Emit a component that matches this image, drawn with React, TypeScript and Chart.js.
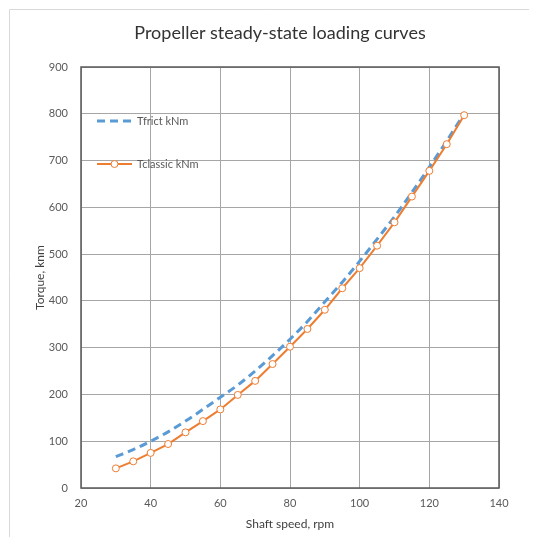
import React, { useEffect, useRef } from "react";
import { Chart, registerables } from "chart.js";

Chart.register(...registerables);

const speeds = [30, 35, 40, 45, 50, 55, 60, 65, 70, 75, 80, 85, 90, 95, 100, 105, 110, 115, 120, 125, 130];
const tfrict = [67, 82, 100, 120, 143, 168, 194, 220, 250, 283, 318, 356, 398, 440, 485, 532, 580, 632, 686, 742, 800];
const tclassic = [42, 57, 75, 94, 119, 143, 168, 199, 229, 265, 302, 340, 381, 427, 470, 518, 568, 623, 678, 735, 797];
const xTicks = [20, 40, 60, 80, 100, 120, 140];
const yTicks = [0, 100, 200, 300, 400, 500, 600, 700, 800, 900];

const TITLE = "Propeller steady-state loading curves";
const X_TITLE = "Shaft speed, rpm";
const Y_TITLE = "Torque, knm";
const LABEL_FRICT = "Tfrict kNm";
const LABEL_CLASSIC = "Tclassic kNm";

const BLUE = "#5B9BD5";
const ORANGE = "#ED7D31";
const FONT = "Lato, 'Open Sans', sans-serif";

export default function App() {
  const ref = useRef<HTMLCanvasElement | null>(null);

  useEffect(() => {
    if (!ref.current) return;
    const decor = {
      id: "decor",
      beforeDraw(chart: any) {
        const ctx = chart.ctx;
        ctx.save();
        ctx.fillStyle = "#ffffff";
        ctx.fillRect(0, 0, chart.width, chart.height);
        ctx.strokeStyle = "#d9d9d9";
        ctx.lineWidth = 1;
        ctx.beginPath();
        ctx.moveTo(1.5, chart.height);
        ctx.lineTo(1.5, 1.5);
        ctx.lineTo(chart.width, 1.5);
        ctx.stroke();
        ctx.restore();
      },
      beforeDatasetsDraw(chart: any) {
        const { ctx, chartArea } = chart;
        ctx.save();
        ctx.strokeStyle = "#595959";
        ctx.lineWidth = 1.5;
        ctx.strokeRect(chartArea.left, chartArea.top, chartArea.right - chartArea.left, chartArea.bottom - chartArea.top);
        ctx.restore();
      },
      afterDraw(chart: any) {
        const { ctx, chartArea } = chart;
        ctx.save();
        // title
        ctx.fillStyle = "#333333";
        ctx.font = `18px ${FONT}`;
        ctx.textAlign = "center";
        ctx.textBaseline = "middle";
        ctx.fillText(TITLE, 272, 25);
        // legend
        const lx0 = chartArea.left + 16;
        const lx1 = chartArea.left + 51;
        const tx = chartArea.left + 56;
        const y1 = chartArea.top + 54;
        const y2 = chartArea.top + 97;
        ctx.strokeStyle = BLUE;
        ctx.lineWidth = 3;
        ctx.setLineDash([8, 5]);
        ctx.beginPath();
        ctx.moveTo(lx0, y1);
        ctx.lineTo(lx1, y1);
        ctx.stroke();
        ctx.setLineDash([]);
        ctx.strokeStyle = ORANGE;
        ctx.lineWidth = 2;
        ctx.beginPath();
        ctx.moveTo(lx0, y2);
        ctx.lineTo(lx1, y2);
        ctx.stroke();
        ctx.fillStyle = "#ffffff";
        ctx.lineWidth = 1;
        ctx.beginPath();
        ctx.arc((lx0 + lx1) / 2, y2, 3.5, 0, Math.PI * 2);
        ctx.fill();
        ctx.stroke();
        ctx.fillStyle = "#595959";
        ctx.font = `11px ${FONT}`;
        ctx.textAlign = "left";
        ctx.textBaseline = "middle";
        ctx.fillText(LABEL_FRICT, tx, y1);
        ctx.fillText(LABEL_CLASSIC, tx, y2);
        ctx.restore();
      },
    };

    const chart = new Chart(ref.current, {
      type: "line",
      data: {
        datasets: [
          {
            label: LABEL_FRICT,
            data: speeds.map((s, i) => ({ x: s, y: tfrict[i] })),
            borderColor: BLUE,
            borderWidth: 3,
            borderDash: [8, 5],
            pointRadius: 0,
            fill: false,
            cubicInterpolationMode: "monotone",
            order: 2,
          },
          {
            label: LABEL_CLASSIC,
            data: speeds.map((s, i) => ({ x: s, y: tclassic[i] })),
            borderColor: ORANGE,
            borderWidth: 2,
            pointRadius: 3.5,
            pointBackgroundColor: "#ffffff",
            pointBorderColor: ORANGE,
            pointBorderWidth: 1,
            fill: false,
            tension: 0,
            order: 1,
          },
        ],
      },
      options: {
        responsive: false,
        animation: false,
        layout: { padding: { top: 59, right: 30, left: 0, bottom: 0 } },
        plugins: {
          legend: { display: false },
          title: { display: false },
          tooltip: { enabled: false },
        },
        scales: {
          x: {
            type: "linear",
            min: xTicks[0],
            max: xTicks[xTicks.length - 1],
            afterBuildTicks: (scale: any) => {
              scale.ticks = xTicks.map((v) => ({ value: v }));
            },
            afterFit: (scale: any) => {
              scale.height = 49;
            },
            grid: { color: "#a6a6a6", lineWidth: 1, drawTicks: false },
            border: { display: false },
            ticks: { padding: 9, color: "#595959", font: { family: FONT, size: 11 } },
            title: {
              display: true,
              text: X_TITLE,
              color: "#404040",
              font: { family: FONT, size: 12 },
              padding: { top: 0, bottom: 6 },
            },
          },
          y: {
            type: "linear",
            min: yTicks[0],
            max: yTicks[yTicks.length - 1],
            afterBuildTicks: (scale: any) => {
              scale.ticks = yTicks.map((v) => ({ value: v }));
            },
            afterFit: (scale: any) => {
              scale.width = 73;
            },
            grid: { color: "#a6a6a6", lineWidth: 1, drawTicks: false },
            border: { display: false },
            ticks: { padding: 13, color: "#595959", font: { family: FONT, size: 11 } },
            title: {
              display: true,
              text: Y_TITLE,
              color: "#404040",
              font: { family: FONT, size: 12 },
              padding: { top: 25, bottom: 0 },
            },
          },
        },
      },
      plugins: [decor],
    } as any);
    return () => chart.destroy();
  }, []);

  return (
    <div style={{ width: 521, height: 529 }}>
      <canvas ref={ref} width={521} height={529} style={{ display: "block" }} />
    </div>
  );
}
